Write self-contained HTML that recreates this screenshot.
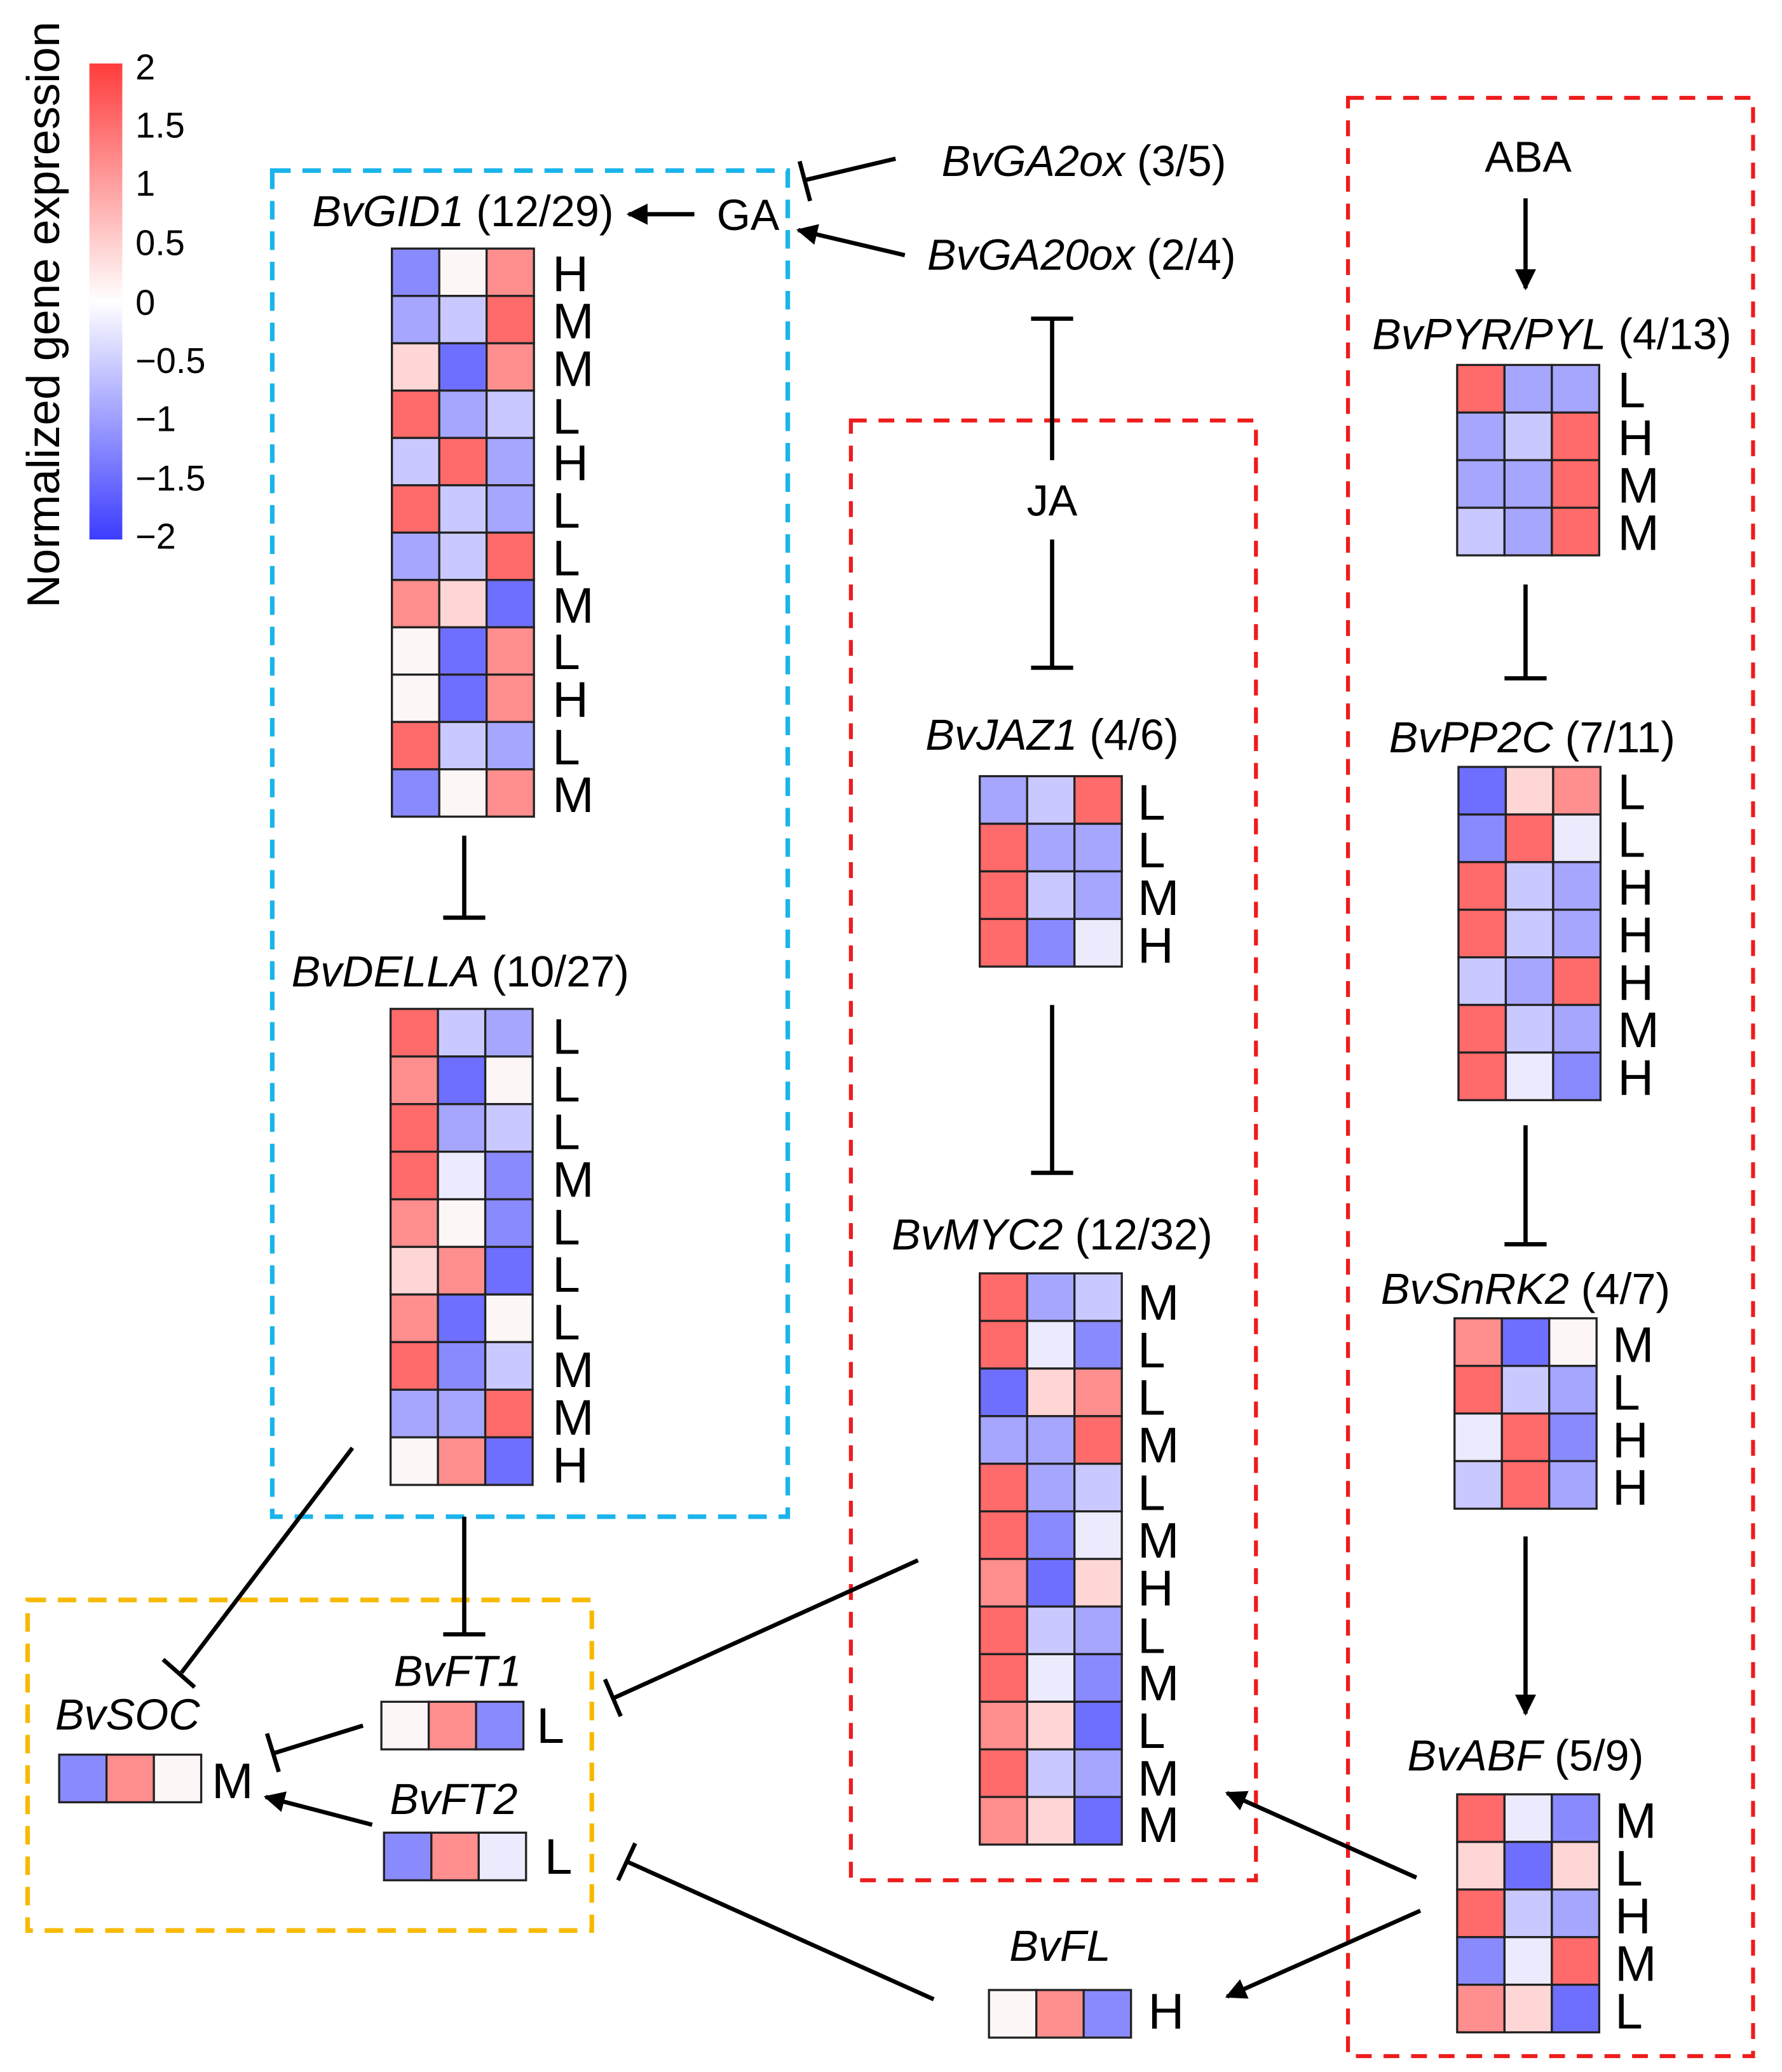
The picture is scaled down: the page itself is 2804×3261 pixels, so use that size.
<!DOCTYPE html>
<html><head><meta charset="utf-8"><style>
html,body{margin:0;padding:0;background:#fff;}
svg{display:block;}
text{font-family:"Liberation Sans",Arial,sans-serif;fill:#000;}
.g{font-style:italic;font-size:33px;}
.n{font-style:normal;}
.l{font-size:38px;}
.R{fill:#ff6a6a}.r{fill:#ff8e8e}.p{fill:#ffd6d6}.W{fill:#fdf6f6}.w{fill:#ebebfd}
.c{fill:#c9c9ff}.b{fill:#a6a6ff}.B{fill:#8a8aff}.D{fill:#6f6fff}
.hm rect{stroke:#222;stroke-width:1.6}
.ln{stroke:#000;stroke-width:3.2;fill:none}
</style></head><body>
<svg width="2804" height="3261" viewBox="0 0 1355 1567" preserveAspectRatio="none">
<defs>
<linearGradient id="cb" x1="0" y1="0" x2="0" y2="1">
<stop offset="0" stop-color="#ff3c3c"/><stop offset="0.5" stop-color="#ffffff"/><stop offset="1" stop-color="#3c3cff"/>
</linearGradient>
<marker id="ar" viewBox="0 0 10 10" refX="9" refY="5" markerWidth="5" markerHeight="5" orient="auto"><path d="M0,0 L10,5 L0,10 z" fill="#000"/></marker>
</defs>

<rect x="68" y="48" width="25" height="360" fill="url(#cb)"/>
<g font-size="27">
<text x="103" y="60">2</text><text x="103" y="104">1.5</text><text x="103" y="148">1</text>
<text x="103" y="193">0.5</text><text x="103" y="238">0</text><text x="103" y="282">−0.5</text>
<text x="103" y="326">−1</text><text x="103" y="371">−1.5</text><text x="103" y="415">−2</text>
</g>
<text transform="translate(45,238) rotate(-90)" text-anchor="middle" font-size="35">Normalized gene expression</text>

<rect x="207" y="129" width="392" height="1018" fill="none" stroke="#1ab4ea" stroke-width="3.5" stroke-dasharray="14,9"/>
<rect x="647" y="318" width="308" height="1104" fill="none" stroke="#ee1c1c" stroke-width="3" stroke-dasharray="12,9"/>
<rect x="1025" y="74" width="308" height="1481" fill="none" stroke="#ee1c1c" stroke-width="3" stroke-dasharray="12,9"/>
<rect x="21" y="1210" width="429" height="250" fill="none" stroke="#f7b900" stroke-width="3.5" stroke-dasharray="14,9"/>

<text class="g" x="352" y="171" text-anchor="middle">BvGID1<tspan class="n"> (12/29)</tspan></text>
<text x="545" y="174" font-size="33">GA</text>
<text class="g" x="716" y="133">BvGA2ox<tspan class="n"> (3/5)</tspan></text>
<text class="g" x="705" y="204">BvGA20ox<tspan class="n"> (2/4)</tspan></text>
<text x="1162" y="130" font-size="33" text-anchor="middle">ABA</text>
<text x="800" y="390" font-size="33" text-anchor="middle">JA</text>
<text class="g" x="1180" y="264" text-anchor="middle">BvPYR/PYL<tspan class="n"> (4/13)</tspan></text>
<text class="g" x="1165" y="569" text-anchor="middle">BvPP2C<tspan class="n"> (7/11)</tspan></text>
<text class="g" x="1160" y="986" text-anchor="middle">BvSnRK2<tspan class="n"> (4/7)</tspan></text>
<text class="g" x="1160" y="1339" text-anchor="middle">BvABF<tspan class="n"> (5/9)</tspan></text>
<text class="g" x="800" y="567" text-anchor="middle">BvJAZ1<tspan class="n"> (4/6)</tspan></text>
<text class="g" x="800" y="945" text-anchor="middle">BvMYC2<tspan class="n"> (12/32)</tspan></text>
<text class="g" x="350" y="746" text-anchor="middle">BvDELLA<tspan class="n"> (10/27)</tspan></text>
<text class="g" x="348" y="1275" text-anchor="middle">BvFT1</text>
<text class="g" x="345" y="1372" text-anchor="middle">BvFT2</text>
<text class="g" x="97" y="1308" text-anchor="middle">BvSOC</text>
<text class="g" x="806" y="1483" text-anchor="middle">BvFL</text>

<g class="hm" transform="translate(298,188)">
<rect class="B" x="0" y="0" width="36" height="35.8"/><rect class="W" x="36" y="0" width="36" height="35.8"/><rect class="r" x="72" y="0" width="36" height="35.8"/>
<rect class="b" x="0" y="35.8" width="36" height="35.8"/><rect class="c" x="36" y="35.8" width="36" height="35.8"/><rect class="R" x="72" y="35.8" width="36" height="35.8"/>
<rect class="p" x="0" y="71.6" width="36" height="35.8"/><rect class="D" x="36" y="71.6" width="36" height="35.8"/><rect class="r" x="72" y="71.6" width="36" height="35.8"/>
<rect class="R" x="0" y="107.4" width="36" height="35.8"/><rect class="b" x="36" y="107.4" width="36" height="35.8"/><rect class="c" x="72" y="107.4" width="36" height="35.8"/>
<rect class="c" x="0" y="143.2" width="36" height="35.8"/><rect class="R" x="36" y="143.2" width="36" height="35.8"/><rect class="b" x="72" y="143.2" width="36" height="35.8"/>
<rect class="R" x="0" y="179" width="36" height="35.8"/><rect class="c" x="36" y="179" width="36" height="35.8"/><rect class="b" x="72" y="179" width="36" height="35.8"/>
<rect class="b" x="0" y="214.8" width="36" height="35.8"/><rect class="c" x="36" y="214.8" width="36" height="35.8"/><rect class="R" x="72" y="214.8" width="36" height="35.8"/>
<rect class="r" x="0" y="250.6" width="36" height="35.8"/><rect class="p" x="36" y="250.6" width="36" height="35.8"/><rect class="D" x="72" y="250.6" width="36" height="35.8"/>
<rect class="W" x="0" y="286.4" width="36" height="35.8"/><rect class="D" x="36" y="286.4" width="36" height="35.8"/><rect class="r" x="72" y="286.4" width="36" height="35.8"/>
<rect class="W" x="0" y="322.2" width="36" height="35.8"/><rect class="D" x="36" y="322.2" width="36" height="35.8"/><rect class="r" x="72" y="322.2" width="36" height="35.8"/>
<rect class="R" x="0" y="358" width="36" height="35.8"/><rect class="c" x="36" y="358" width="36" height="35.8"/><rect class="b" x="72" y="358" width="36" height="35.8"/>
<rect class="B" x="0" y="393.8" width="36" height="35.8"/><rect class="W" x="36" y="393.8" width="36" height="35.8"/><rect class="r" x="72" y="393.8" width="36" height="35.8"/>
</g>
<g class="l">
<text x="420" y="220">H</text><text x="420" y="256">M</text><text x="420" y="292">M</text><text x="420" y="328">L</text>
<text x="420" y="363">H</text><text x="420" y="399">L</text><text x="420" y="435">L</text><text x="420" y="471">M</text>
<text x="420" y="506">L</text><text x="420" y="542">H</text><text x="420" y="578">L</text><text x="420" y="614">M</text>
</g>

<g class="hm" transform="translate(297,763)">
<rect class="R" x="0" y="0" width="36" height="36"/><rect class="c" x="36" y="0" width="36" height="36"/><rect class="b" x="72" y="0" width="36" height="36"/>
<rect class="r" x="0" y="36" width="36" height="36"/><rect class="D" x="36" y="36" width="36" height="36"/><rect class="W" x="72" y="36" width="36" height="36"/>
<rect class="R" x="0" y="72" width="36" height="36"/><rect class="b" x="36" y="72" width="36" height="36"/><rect class="c" x="72" y="72" width="36" height="36"/>
<rect class="R" x="0" y="108" width="36" height="36"/><rect class="w" x="36" y="108" width="36" height="36"/><rect class="B" x="72" y="108" width="36" height="36"/>
<rect class="r" x="0" y="144" width="36" height="36"/><rect class="W" x="36" y="144" width="36" height="36"/><rect class="B" x="72" y="144" width="36" height="36"/>
<rect class="p" x="0" y="180" width="36" height="36"/><rect class="r" x="36" y="180" width="36" height="36"/><rect class="D" x="72" y="180" width="36" height="36"/>
<rect class="r" x="0" y="216" width="36" height="36"/><rect class="D" x="36" y="216" width="36" height="36"/><rect class="W" x="72" y="216" width="36" height="36"/>
<rect class="R" x="0" y="252" width="36" height="36"/><rect class="B" x="36" y="252" width="36" height="36"/><rect class="c" x="72" y="252" width="36" height="36"/>
<rect class="b" x="0" y="288" width="36" height="36"/><rect class="b" x="36" y="288" width="36" height="36"/><rect class="R" x="72" y="288" width="36" height="36"/>
<rect class="W" x="0" y="324" width="36" height="36"/><rect class="r" x="36" y="324" width="36" height="36"/><rect class="D" x="72" y="324" width="36" height="36"/>
</g>
<g class="l">
<text x="420" y="797">L</text><text x="420" y="833">L</text><text x="420" y="869">L</text><text x="420" y="905">M</text>
<text x="420" y="941">L</text><text x="420" y="977">L</text><text x="420" y="1013">L</text><text x="420" y="1049">M</text>
<text x="420" y="1085">M</text><text x="420" y="1121">H</text>
</g>

<g class="hm" transform="translate(745,587)">
<rect class="b" x="0" y="0" width="36" height="36"/><rect class="c" x="36" y="0" width="36" height="36"/><rect class="R" x="72" y="0" width="36" height="36"/>
<rect class="R" x="0" y="36" width="36" height="36"/><rect class="b" x="36" y="36" width="36" height="36"/><rect class="b" x="72" y="36" width="36" height="36"/>
<rect class="R" x="0" y="72" width="36" height="36"/><rect class="c" x="36" y="72" width="36" height="36"/><rect class="b" x="72" y="72" width="36" height="36"/>
<rect class="R" x="0" y="108" width="36" height="36"/><rect class="B" x="36" y="108" width="36" height="36"/><rect class="w" x="72" y="108" width="36" height="36"/>
</g>
<g class="l">
<text x="865" y="620">L</text><text x="865" y="656">L</text><text x="865" y="692">M</text><text x="865" y="728">H</text>
</g>

<g class="hm" transform="translate(745,963)">
<rect class="R" x="0" y="0" width="36" height="36"/><rect class="b" x="36" y="0" width="36" height="36"/><rect class="c" x="72" y="0" width="36" height="36"/>
<rect class="R" x="0" y="36" width="36" height="36"/><rect class="w" x="36" y="36" width="36" height="36"/><rect class="B" x="72" y="36" width="36" height="36"/>
<rect class="D" x="0" y="72" width="36" height="36"/><rect class="p" x="36" y="72" width="36" height="36"/><rect class="r" x="72" y="72" width="36" height="36"/>
<rect class="b" x="0" y="108" width="36" height="36"/><rect class="b" x="36" y="108" width="36" height="36"/><rect class="R" x="72" y="108" width="36" height="36"/>
<rect class="R" x="0" y="144" width="36" height="36"/><rect class="b" x="36" y="144" width="36" height="36"/><rect class="c" x="72" y="144" width="36" height="36"/>
<rect class="R" x="0" y="180" width="36" height="36"/><rect class="B" x="36" y="180" width="36" height="36"/><rect class="w" x="72" y="180" width="36" height="36"/>
<rect class="r" x="0" y="216" width="36" height="36"/><rect class="D" x="36" y="216" width="36" height="36"/><rect class="p" x="72" y="216" width="36" height="36"/>
<rect class="R" x="0" y="252" width="36" height="36"/><rect class="c" x="36" y="252" width="36" height="36"/><rect class="b" x="72" y="252" width="36" height="36"/>
<rect class="R" x="0" y="288" width="36" height="36"/><rect class="w" x="36" y="288" width="36" height="36"/><rect class="B" x="72" y="288" width="36" height="36"/>
<rect class="r" x="0" y="324" width="36" height="36"/><rect class="p" x="36" y="324" width="36" height="36"/><rect class="D" x="72" y="324" width="36" height="36"/>
<rect class="R" x="0" y="360" width="36" height="36"/><rect class="c" x="36" y="360" width="36" height="36"/><rect class="b" x="72" y="360" width="36" height="36"/>
<rect class="r" x="0" y="396" width="36" height="36"/><rect class="p" x="36" y="396" width="36" height="36"/><rect class="D" x="72" y="396" width="36" height="36"/>
</g>
<g class="l">
<text x="865" y="998">M</text><text x="865" y="1034">L</text><text x="865" y="1070">L</text><text x="865" y="1106">M</text>
<text x="865" y="1142">L</text><text x="865" y="1178">M</text><text x="865" y="1214">H</text><text x="865" y="1250">L</text>
<text x="865" y="1286">M</text><text x="865" y="1322">L</text><text x="865" y="1358">M</text><text x="865" y="1393">M</text>
</g>

<g class="hm" transform="translate(1108,276)">
<rect class="R" x="0" y="0" width="36" height="36"/><rect class="b" x="36" y="0" width="36" height="36"/><rect class="b" x="72" y="0" width="36" height="36"/>
<rect class="b" x="0" y="36" width="36" height="36"/><rect class="c" x="36" y="36" width="36" height="36"/><rect class="R" x="72" y="36" width="36" height="36"/>
<rect class="b" x="0" y="72" width="36" height="36"/><rect class="b" x="36" y="72" width="36" height="36"/><rect class="R" x="72" y="72" width="36" height="36"/>
<rect class="c" x="0" y="108" width="36" height="36"/><rect class="b" x="36" y="108" width="36" height="36"/><rect class="R" x="72" y="108" width="36" height="36"/>
</g>
<g class="l">
<text x="1230" y="308">L</text><text x="1230" y="344">H</text><text x="1230" y="380">M</text><text x="1230" y="416">M</text>
</g>

<g class="hm" transform="translate(1109,580)">
<rect class="D" x="0" y="0" width="36" height="36"/><rect class="p" x="36" y="0" width="36" height="36"/><rect class="r" x="72" y="0" width="36" height="36"/>
<rect class="B" x="0" y="36" width="36" height="36"/><rect class="R" x="36" y="36" width="36" height="36"/><rect class="w" x="72" y="36" width="36" height="36"/>
<rect class="R" x="0" y="72" width="36" height="36"/><rect class="c" x="36" y="72" width="36" height="36"/><rect class="b" x="72" y="72" width="36" height="36"/>
<rect class="R" x="0" y="108" width="36" height="36"/><rect class="c" x="36" y="108" width="36" height="36"/><rect class="b" x="72" y="108" width="36" height="36"/>
<rect class="c" x="0" y="144" width="36" height="36"/><rect class="b" x="36" y="144" width="36" height="36"/><rect class="R" x="72" y="144" width="36" height="36"/>
<rect class="R" x="0" y="180" width="36" height="36"/><rect class="c" x="36" y="180" width="36" height="36"/><rect class="b" x="72" y="180" width="36" height="36"/>
<rect class="R" x="0" y="216" width="36" height="36"/><rect class="w" x="36" y="216" width="36" height="36"/><rect class="B" x="72" y="216" width="36" height="36"/>
</g>
<g class="l">
<text x="1230" y="612">L</text><text x="1230" y="648">L</text><text x="1230" y="684">H</text><text x="1230" y="720">H</text>
<text x="1230" y="756">H</text><text x="1230" y="792">M</text><text x="1230" y="828">H</text>
</g>

<g class="hm" transform="translate(1106,997)">
<rect class="r" x="0" y="0" width="36" height="36"/><rect class="D" x="36" y="0" width="36" height="36"/><rect class="W" x="72" y="0" width="36" height="36"/>
<rect class="R" x="0" y="36" width="36" height="36"/><rect class="c" x="36" y="36" width="36" height="36"/><rect class="b" x="72" y="36" width="36" height="36"/>
<rect class="w" x="0" y="72" width="36" height="36"/><rect class="R" x="36" y="72" width="36" height="36"/><rect class="B" x="72" y="72" width="36" height="36"/>
<rect class="c" x="0" y="108" width="36" height="36"/><rect class="R" x="36" y="108" width="36" height="36"/><rect class="b" x="72" y="108" width="36" height="36"/>
</g>
<g class="l">
<text x="1226" y="1030">M</text><text x="1226" y="1066">L</text><text x="1226" y="1102">H</text><text x="1226" y="1138">H</text>
</g>

<g class="hm" transform="translate(1108,1357)">
<rect class="R" x="0" y="0" width="36" height="36"/><rect class="w" x="36" y="0" width="36" height="36"/><rect class="B" x="72" y="0" width="36" height="36"/>
<rect class="p" x="0" y="36" width="36" height="36"/><rect class="D" x="36" y="36" width="36" height="36"/><rect class="p" x="72" y="36" width="36" height="36"/>
<rect class="R" x="0" y="72" width="36" height="36"/><rect class="c" x="36" y="72" width="36" height="36"/><rect class="b" x="72" y="72" width="36" height="36"/>
<rect class="B" x="0" y="108" width="36" height="36"/><rect class="w" x="36" y="108" width="36" height="36"/><rect class="R" x="72" y="108" width="36" height="36"/>
<rect class="r" x="0" y="144" width="36" height="36"/><rect class="p" x="36" y="144" width="36" height="36"/><rect class="D" x="72" y="144" width="36" height="36"/>
</g>
<g class="l">
<text x="1228" y="1390">M</text><text x="1228" y="1426">L</text><text x="1228" y="1462">H</text><text x="1228" y="1498">M</text><text x="1228" y="1534">L</text>
</g>

<g class="hm">
<rect class="W" x="290" y="1287" width="36" height="36"/><rect class="r" x="326" y="1287" width="36" height="36"/><rect class="B" x="362" y="1287" width="36" height="36"/>
<rect class="B" x="292" y="1386" width="36" height="36"/><rect class="r" x="328" y="1386" width="36" height="36"/><rect class="w" x="364" y="1386" width="36" height="36"/>
<rect class="B" x="45" y="1327" width="36" height="36"/><rect class="r" x="81" y="1327" width="36" height="36"/><rect class="W" x="117" y="1327" width="36" height="36"/>
<rect class="W" x="752" y="1505" width="36" height="36"/><rect class="r" x="788" y="1505" width="36" height="36"/><rect class="B" x="824" y="1505" width="36" height="36"/>
</g>
<g class="l">
<text x="408" y="1318">L</text><text x="414" y="1417">L</text><text x="161" y="1360">M</text><text x="873" y="1534">H</text>
</g>

<g class="ln">
<line x1="528" y1="162" x2="478" y2="162" marker-end="url(#ar)"/>
<line x1="681" y1="120" x2="613" y2="136"/><line x1="608" y1="122" x2="616" y2="152"/>
<line x1="688" y1="193" x2="607" y2="174" marker-end="url(#ar)"/>
<line x1="800" y1="241" x2="800" y2="348"/><line x1="784" y1="241" x2="816" y2="241"/>
<line x1="800" y1="408" x2="800" y2="505"/><line x1="784" y1="505" x2="816" y2="505"/>
<line x1="800" y1="760" x2="800" y2="887"/><line x1="784" y1="887" x2="816" y2="887"/>
<line x1="1160" y1="150" x2="1160" y2="218" marker-end="url(#ar)"/>
<line x1="1160" y1="442" x2="1160" y2="513"/><line x1="1144" y1="513" x2="1176" y2="513"/>
<line x1="1160" y1="851" x2="1160" y2="941"/><line x1="1144" y1="941" x2="1176" y2="941"/>
<line x1="1160" y1="1162" x2="1160" y2="1296" marker-end="url(#ar)"/>
<line x1="353" y1="632" x2="353" y2="694"/><line x1="337" y1="694" x2="369" y2="694"/>
<line x1="353" y1="1147" x2="353" y2="1236"/><line x1="337" y1="1236" x2="369" y2="1236"/>
<line x1="268" y1="1095" x2="138" y2="1265"/><line x1="124" y1="1255" x2="148" y2="1276"/>
<line x1="698" y1="1180" x2="467" y2="1284"/><line x1="460" y1="1270" x2="472" y2="1298"/>
<line x1="276" y1="1305" x2="208" y2="1326"/><line x1="203" y1="1311" x2="212" y2="1340"/>
<line x1="283" y1="1380" x2="202" y2="1359" marker-end="url(#ar)"/>
<line x1="710" y1="1512" x2="477" y2="1408"/><line x1="470" y1="1422" x2="483" y2="1394"/>
<line x1="1077" y1="1420" x2="933" y2="1356" marker-end="url(#ar)"/>
<line x1="1080" y1="1445" x2="933" y2="1510" marker-end="url(#ar)"/>
</g>
</svg>
</body></html>
